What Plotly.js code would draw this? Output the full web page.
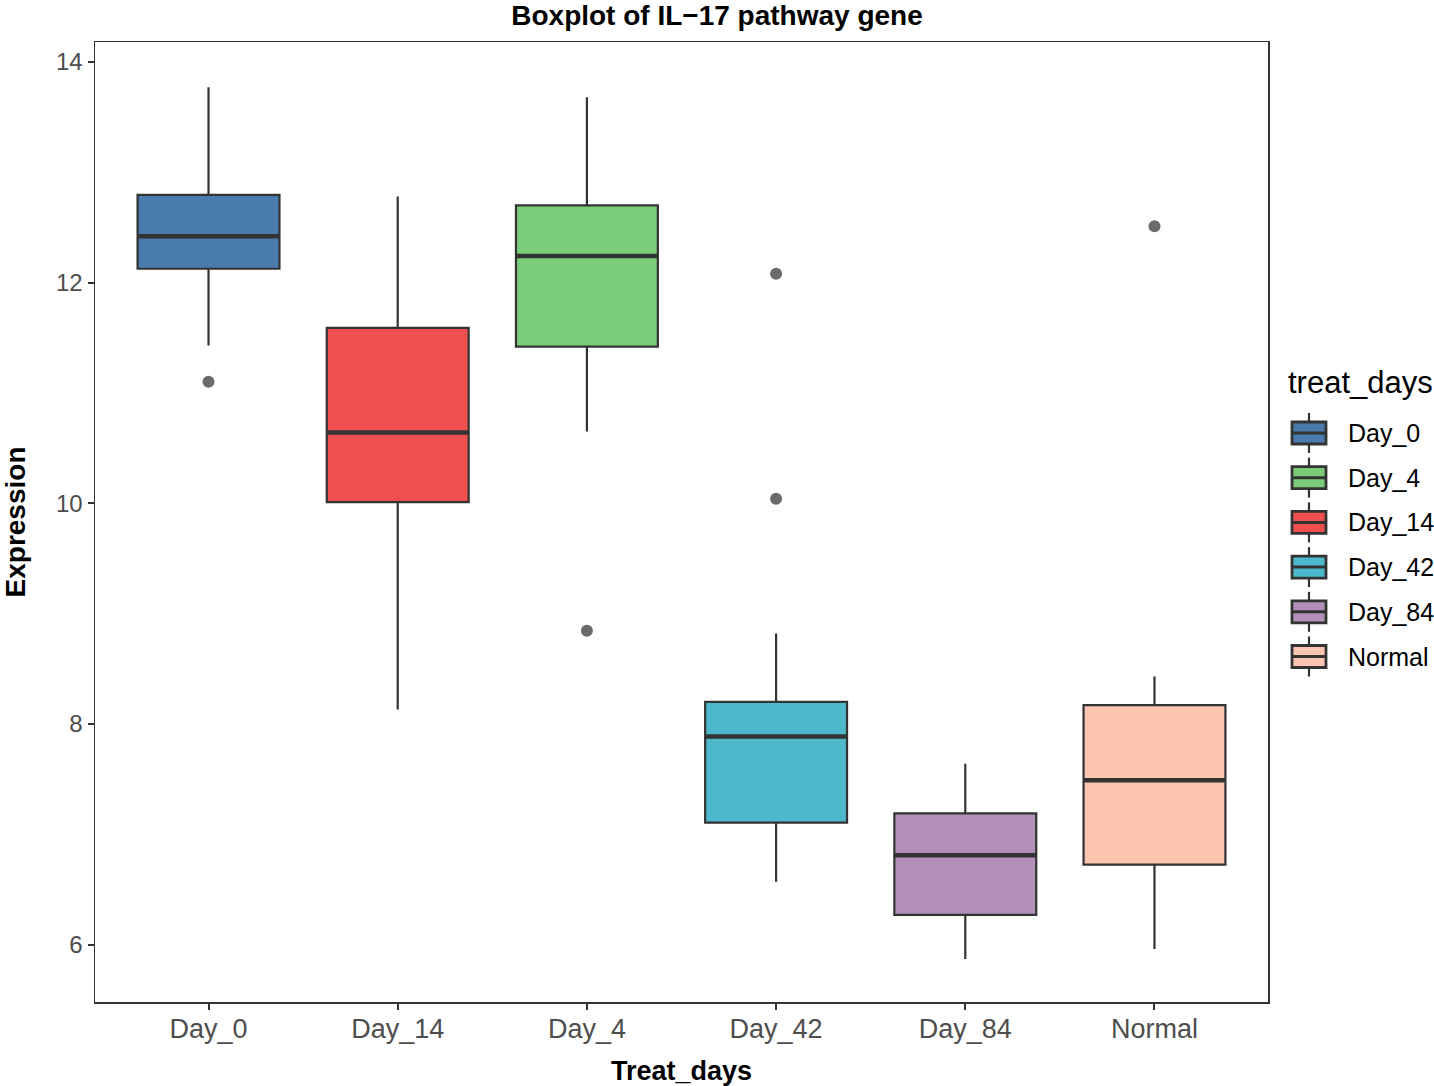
<!DOCTYPE html>
<html>
<head>
<meta charset="utf-8">
<script src="https://cdn.plot.ly/plotly-3.0.1.min.js"></script>
<style>html,body{margin:0;padding:0;background:#fff;}#chart{width:1434px;height:1086px;}</style>
</head>
<body>
<div id="chart"></div>
<script>
// Category order on the x axis
const categories = ["Day_0", "Day_14", "Day_4", "Day_42", "Day_84", "Normal"];
// Legend order
const legendOrder = ["Day_0", "Day_4", "Day_14", "Day_42", "Day_84", "Normal"];
// Box statistics, aligned with categories
const lowerWhisker = [11.43, 8.13, 10.65, 6.57, 5.87, 5.96];
const q1Values     = [12.125, 10.01, 11.42, 7.105, 6.27, 6.725];
const medianValues = [12.42, 10.64, 12.24, 7.885, 6.81, 7.49];
const q3Values     = [12.795, 11.59, 12.70, 8.20, 7.19, 8.17];
const upperWhisker = [13.77, 12.78, 13.68, 8.82, 7.64, 8.43];
// Outliers
const outlierGroups = ["Day_0", "Day_4", "Day_42", "Day_42", "Normal"];
const outlierValues = [11.10, 8.845, 12.08, 10.04, 12.51];
// Fill colours
const fillColors = {
  "Day_0": "#4A7BAD", "Day_4": "#7BCC78", "Day_14": "#F04F4F",
  "Day_42": "#4DB8CC", "Day_84": "#B290BA", "Normal": "#FCC5AF"
};
const yTicks = [6, 8, 10, 12, 14];

const FONT = "Liberation Sans, Arial, sans-serif";
const lineCol = "#333333";
const boxWidth = 0.75;
const traces = [];
categories.forEach((c, i) => {
  traces.push({
    type: "box",
    name: c,
    x: [c],
    q1: [q1Values[i]], median: [medianValues[i]], q3: [q3Values[i]],
    lowerfence: [lowerWhisker[i]], upperfence: [upperWhisker[i]],
    fillcolor: fillColors[c],
    line: {color: lineCol, width: 2.2},
    whiskerwidth: 0,
    width: boxWidth,
    boxpoints: false,
    showlegend: false,
    hoverinfo: "skip"
  });
});
traces.push({
  type: "scatter", mode: "markers",
  x: outlierGroups, y: outlierValues,
  marker: {color: "#6B6B6B", size: 12},
  showlegend: false, hoverinfo: "skip"
});

// thicker median lines, built from the data
const shapes = categories.map((c, i) => ({
  type: "line", xref: "x", yref: "y",
  x0: i - boxWidth / 2, x1: i + boxWidth / 2,
  y0: medianValues[i], y1: medianValues[i],
  line: {color: lineCol, width: 4.5}
}));

// custom legend (ggplot style keys)
const annotations = [{
  text: "treat_days", xref: "paper", yref: "paper",
  x: 1286, y: 382, showarrow: false, xanchor: "left", yanchor: "middle",
  font: {family: FONT, size: 31, color: "#000"}
}];
const legTop = 433, legStep = 44.7;
legendOrder.forEach((c, k) => {
  const cy = legTop + k * legStep;
  shapes.push({type: "line", xref: "paper", yref: "paper", x0: 1309, x1: 1309, y0: cy - 20, y1: cy + 20,
    line: {color: lineCol, width: 2.2}});
  shapes.push({type: "rect", xref: "paper", yref: "paper", x0: 1292, x1: 1326, y0: cy - 11, y1: cy + 11,
    fillcolor: fillColors[c], line: {color: lineCol, width: 2.8}});
  shapes.push({type: "line", xref: "paper", yref: "paper", x0: 1292, x1: 1326, y0: cy, y1: cy,
    line: {color: lineCol, width: 3}});
  annotations.push({
    text: c, xref: "paper", yref: "paper", x: 1346, y: cy, showarrow: false,
    xanchor: "left", yanchor: "middle",
    font: {family: FONT, size: 25, color: "#000"}
  });
});

// convert pixel positions for legend into paper coords
const W = 1434, H = 1086, mL = 95, mR = 166, mT = 42, mB = 84;
const pw = W - mL - mR, ph = H - mT - mB;
const px = x => (x - mL) / pw;
const py = y => 1 - (y - mT) / ph;
shapes.forEach(s => {
  if (s.xref === "paper") { s.x0 = px(s.x0); s.x1 = px(s.x1); s.y0 = py(s.y0); s.y1 = py(s.y1); }
});
annotations.forEach(a => { a.x = px(a.x); a.y = py(a.y); });

const layout = {
  width: W, height: H,
  margin: {l: mL, r: mR, t: mT, b: mB, pad: 0},
  paper_bgcolor: "#fff", plot_bgcolor: "#fff",
  showlegend: false,
  boxmode: "overlay",
  title: {text: "<b>Boxplot of IL\u221217 pathway gene</b>", x: 0.5, xref: "container", xanchor: "center",
    y: 1 - 15 / H, yanchor: "middle",
    font: {family: FONT, size: 28, color: "#000"}},
  xaxis: {
    type: "category", categoryorder: "array", categoryarray: categories,
    range: [-0.6, 5.6],
    showgrid: false, zeroline: false,
    showline: true, mirror: true, linecolor: "#333333", linewidth: 1.5,
    ticks: "outside", ticklen: 6, tickwidth: 2, tickcolor: "#333333",
    ticklabelstandoff: -4,
    tickfont: {family: FONT, size: 27, color: "#4D4D4D"},
    title: {text: "<b>Treat_days</b>", standoff: 18,
      font: {family: FONT, size: 27, color: "#000"}}
  },
  yaxis: {
    range: [5.48, 14.18],
    tickvals: yTicks, ticktext: yTicks.map(String),
    showgrid: false, zeroline: false,
    showline: true, mirror: true, linecolor: "#333333", linewidth: 1.5,
    ticks: "outside", ticklen: 6, tickwidth: 2, tickcolor: "#333333",
    tickfont: {family: FONT, size: 24, color: "#4D4D4D"},
    title: {text: "<b>Expression</b>", standoff: 24,
      font: {family: FONT, size: 28, color: "#000"}}
  },
  shapes: shapes,
  annotations: annotations
};

Plotly.newPlot("chart", traces, layout, {displayModeBar: false, staticPlot: true});
</script>
</body>
</html>
